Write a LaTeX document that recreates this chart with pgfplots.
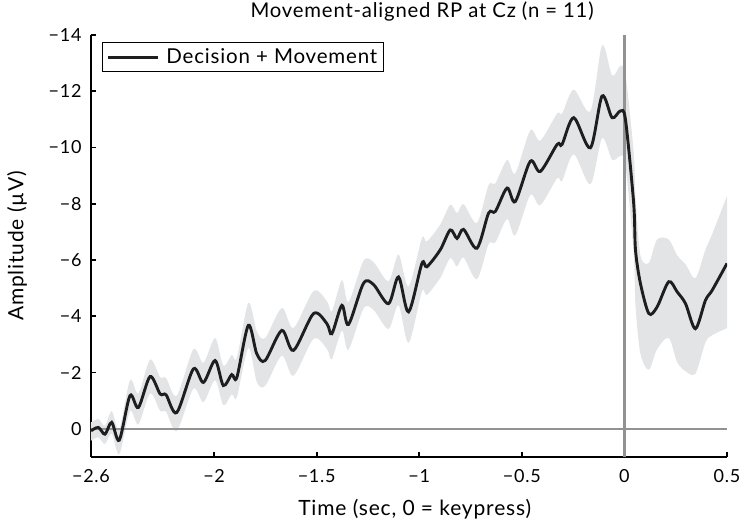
\documentclass[border=0pt]{standalone}
\usepackage{fontspec}
\setmainfont{Lato}[LetterSpace=4]
\usepackage{pgfplots}
\usepackage{pgfplotstable}
\pgfplotsset{compat=1.18}
\usepgfplotslibrary{fillbetween}
\definecolor{bandgray}{HTML}{E3E4E6}
\definecolor{zline}{HTML}{929292}
\definecolor{curve}{HTML}{1E1E1E}
\pgfplotstableread{
x mean hi lo
-2.600 0.07 -0.23 0.42
-2.564 -0.05 -0.35 0.30
-2.532 0.19 -0.11 0.54
-2.499 -0.23 -0.63 0.17
-2.462 0.40 0.00 0.90
-2.410 -1.18 -1.73 -0.63
-2.369 -0.76 -1.26 -0.16
-2.312 -1.86 -2.46 -1.26
-2.263 -1.24 -1.84 -0.64
-2.234 -1.21 -1.81 -0.61
-2.182 -0.58 -1.18 0.07
-2.101 -2.13 -2.83 -1.43
-2.052 -1.65 -2.35 -0.95
-1.995 -2.43 -3.23 -1.73
-1.955 -1.54 -2.24 -0.84
-1.914 -1.93 -2.63 -1.23
-1.889 -1.83 -2.53 -1.13
-1.833 -3.68 -4.48 -2.88
-1.792 -2.67 -3.47 -1.67
-1.751 -2.43 -3.23 -1.53
-1.670 -3.50 -4.30 -2.60
-1.613 -2.79 -3.59 -1.89
-1.515 -4.10 -4.90 -3.20
-1.450 -3.74 -4.54 -2.84
-1.426 -3.38 -4.18 -2.48
-1.377 -4.39 -5.29 -3.49
-1.345 -3.71 -4.51 -2.81
-1.272 -5.17 -5.97 -4.27
-1.223 -5.13 -5.93 -4.23
-1.150 -4.45 -5.25 -3.55
-1.101 -5.40 -6.20 -4.40
-1.052 -4.16 -5.06 -3.06
-0.987 -5.88 -6.78 -4.88
-0.963 -5.76 -6.66 -4.76
-0.898 -6.36 -7.26 -5.36
-0.849 -7.07 -7.97 -6.07
-0.816 -6.77 -7.67 -5.77
-0.784 -7.09 -7.99 -6.09
-0.719 -6.42 -7.32 -5.32
-0.662 -7.67 -8.67 -6.57
-0.629 -7.73 -8.73 -6.63
-0.572 -8.56 -9.56 -7.46
-0.532 -8.08 -9.08 -6.88
-0.459 -9.51 -10.61 -8.31
-0.410 -9.15 -10.25 -7.95
-0.328 -10.11 -11.21 -8.91
-0.304 -10.11 -11.21 -8.81
-0.247 -11.06 -12.06 -9.76
-0.166 -9.99 -11.29 -8.69
-0.109 -11.83 -13.63 -10.33
-0.060 -11.06 -12.56 -9.56
-0.020 -11.30 -12.90 -9.70
0.005 -11.00 -12.60 -9.40
0.045 -8.03 -9.83 -6.23
0.054 -6.36 -8.26 -4.36
0.078 -5.17 -6.17 -2.67
0.119 -4.10 -5.90 -2.10
0.159 -4.33 -6.73 -2.83
0.216 -5.23 -6.73 -3.23
0.257 -4.87 -6.17 -2.37
0.298 -4.45 -5.85 -2.05
0.346 -3.56 -5.36 -1.96
0.395 -4.57 -6.37 -3.07
0.428 -4.93 -6.93 -3.33
0.500 -5.88 -8.28 -3.58
}\rp
\begin{document}
\begin{tikzpicture}
\begin{axis}[
  at={(0pt,0pt)}, anchor=south west,
  scale only axis, width=636pt, height=422pt,
  xmin=-2.6, xmax=0.5, ymin=-14, ymax=1, y dir=reverse,
  axis x line*=bottom, axis y line*=left,
  axis line style={line width=2.1pt, black},
  tick style={line width=1.8pt, black}, tick align=inside, major tick length=5pt,
  xtick={-2.6,-2,-1.5,-1,-0.5,0,0.5},
  xticklabels={−2.6,−2,−1.5,−1,−0.5,0,0.5},
  ytick={-14,-12,-10,-8,-6,-4,-2,0},
  yticklabels={−14,−12,−10,−8,−6,−4,−2,0},
  xticklabel style={font=\fontsize{18}{21}\selectfont, anchor=base, yshift=-26pt},
  yticklabel style={font=\fontsize{18}{21}\selectfont, anchor=east, xshift=-6pt},
  xlabel={Time (sec, 0 = keypress)},
  ylabel={Amplitude (µV)},
  xlabel style={font=\fontsize{21}{25}\selectfont, at={(axis description cs:0.509,-0.1398)}, anchor=base},
  ylabel style={font=\fontsize{21}{25}\selectfont, at={(axis description cs:-0.1164,0.5)}, anchor=center},
  title={Movement-aligned RP at Cz (n = 11)},
  title style={font=\fontsize{20.3}{24}\selectfont, at={(axis description cs:0.2453,1.0284)}, anchor=base west},
  legend style={at={(axis description cs:0.0173,0.9834)}, anchor=north west, draw=black, line width=0.9pt,
    font=\fontsize{20.5}{24}\selectfont, inner xsep=4pt, inner ysep=4.5pt},
  legend image code/.code={\draw[#1, line width=3pt] (0pt,0pt) -- (50pt,0pt); \path (55pt,0pt);},
]
\addplot[zline, line width=1.9pt, forget plot] coordinates {(-2.6,0) (0.5,0)};
\addplot[name path=hi, draw=none, smooth, tension=0.5, forget plot] table[x=x, y=hi] {\rp};
\addplot[name path=lo, draw=none, smooth, tension=0.5, forget plot] table[x=x, y=lo] {\rp};
\addplot[bandgray, forget plot] fill between[of=hi and lo];
\addplot[zline, line width=2.4pt, forget plot] coordinates {(0,1) (0,-14)};
\addplot[curve, line width=2.9pt, smooth, tension=0.5] table[x=x, y=mean] {\rp};
\addlegendentry{Decision + Movement}
\end{axis}
\pgfresetboundingbox
\path[use as bounding box] (-91pt,-65pt) rectangle (651pt,457pt);
\end{tikzpicture}
\end{document}
